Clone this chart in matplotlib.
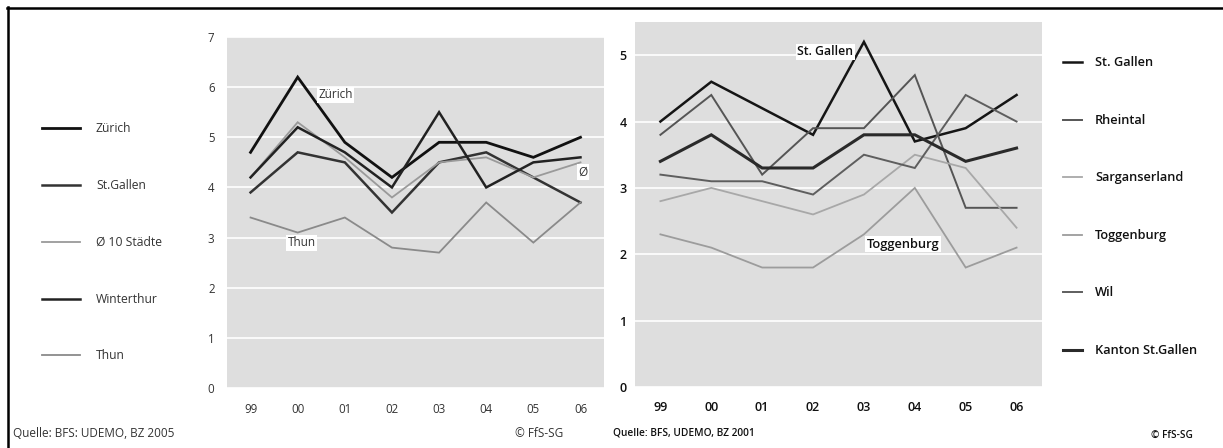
import matplotlib
matplotlib.use("Agg")
import matplotlib.pyplot as plt
from matplotlib.lines import Line2D

plt.rcParams['font.family'] = ['Open Sans', 'DejaVu Sans']

# left chart: cities 1999-2006
years = ["99", "00", "01", "02", "03", "04", "05", "06"]
zuerich = [4.7, 6.2, 4.9, 4.2, 4.9, 4.9, 4.6, 5.0]
stgallen = [3.9, 4.7, 4.5, 3.5, 4.5, 4.7, 4.2, 3.7]
staedte10 = [4.2, 5.3, 4.6, 3.8, 4.5, 4.6, 4.2, 4.5]
winterthur = [4.2, 5.2, 4.7, 4.0, 5.5, 4.0, 4.5, 4.6]
thun = [3.4, 3.1, 3.4, 2.8, 2.7, 3.7, 2.9, 3.7]

left_names = ["Zürich", "St.Gallen", "Ø 10 Städte", "Winterthur", "Thun"]
left_series = [zuerich, stgallen, staedte10, winterthur, thun]
left_colors = ["#111111", "#333333", "#9a9a9a", "#222222", "#8a8a8a"]
left_widths = [2.0, 1.8, 1.3, 1.8, 1.3]

# right chart: regions of canton St.Gallen
r_stgallen = [4.0, 4.6, 4.2, 3.8, 5.2, 3.7, 3.9, 4.4]
rheintal = [3.8, 4.4, 3.2, 3.9, 3.9, 4.7, 2.7, 2.7]
sarganserland = [2.8, 3.0, 2.8, 2.6, 2.9, 3.5, 3.3, 2.4]
toggenburg = [2.3, 2.1, 1.8, 1.8, 2.3, 3.0, 1.8, 2.1]
wil = [3.2, 3.1, 3.1, 2.9, 3.5, 3.3, 4.4, 4.0]
kanton = [3.4, 3.8, 3.3, 3.3, 3.8, 3.8, 3.4, 3.6]

right_names = ["St. Gallen", "Rheintal", "Sarganserland", "Toggenburg", "Wil", "Kanton St.Gallen"]
right_series = [r_stgallen, rheintal, sarganserland, toggenburg, wil, kanton]
right_colors = ["#151515", "#555555", "#a8a8a8", "#9c9c9c", "#5e5e5e", "#2a2a2a"]
right_widths = [1.8, 1.4, 1.3, 1.3, 1.4, 2.2]

fig = plt.figure(figsize=(12.23, 4.48), dpi=100)
bg = "#dedede"

ax1 = fig.add_axes([0.1856, 0.1339, 0.3083, 0.7835])
ax2 = fig.add_axes([0.5192, 0.1362, 0.3328, 0.8147])

x = list(range(len(years)))

for ax, series, colors, widths in [(ax1, left_series, left_colors, left_widths),
                                   (ax2, right_series, right_colors, right_widths)]:
    ax.set_facecolor(bg)
    for s, c, w in zip(series, colors, widths):
        ax.plot(x, s, color=c, lw=w, solid_joinstyle='miter')
    ax.set_xlim(-0.5, 7.5)
    ax.set_xticks(x)
    ax.set_xticklabels(years)
    ax.grid(axis='y', color='white', lw=1.2)
    ax.set_axisbelow(True)
    for sp in ax.spines.values():
        sp.set_visible(False)
    ax.tick_params(length=0)

ax1.set_ylim(0, 7)
ax1.set_yticks(range(8))
ax1.tick_params(axis='both', labelsize=8.3, colors='#333333')
ax1.tick_params(axis='x', pad=11)
ax1.tick_params(axis='y', pad=9)

ax2.set_ylim(0, 5.5)
ax2.set_yticks(range(6))
ax2.tick_params(axis='both', labelsize=9, colors='#111111')
ax2.tick_params(axis='x', pad=10)
ax2.tick_params(axis='y', pad=6)
for t in ax2.get_xticklabels() + ax2.get_yticklabels():
    t.set_fontweight('semibold')

box = dict(facecolor='white', edgecolor='none', pad=1)
ax1.text(1.8, 5.85, "Zürich", fontsize=8.5, color='#333333', ha='center', va='center', bbox=box)
ax1.text(1.08, 2.9, "Thun", fontsize=8.5, color='#333333', ha='center', va='center', bbox=box)
ax1.text(7.05, 4.3, "Ø", fontsize=8.5, color='#333333', ha='center', va='center', bbox=box)
ax2.text(3.24, 5.05, "St. Gallen", fontsize=8.8, color='#111111', ha='center', va='center',
         fontweight='semibold', bbox=box)
ax2.text(4.77, 2.15, "Toggenburg", fontsize=9.3, color='#111111', ha='center', va='center',
         fontweight='semibold', bbox=box)

# legends (drawn by hand in figure pixels)
W, H = 1223.0, 448.0
left_ys = [128, 185, 242, 299, 355]
for name, c, w, y in zip(left_names, left_colors, left_widths, left_ys):
    fig.add_artist(Line2D([42 / W, 80 / W], [1 - y / H, 1 - y / H], color=c, lw=w))
    fig.text(96 / W, 1 - y / H, name, fontsize=8.7, color='#333333', va='center')

right_ys = [62, 120, 177, 235, 292, 350]
for name, c, w, y in zip(right_names, right_colors, right_widths, right_ys):
    fig.add_artist(Line2D([1063 / W, 1082 / W], [1 - y / H, 1 - y / H], color=c, lw=w))
    fig.text(1095 / W, 1 - y / H, name, fontsize=9.2, color='#111111', va='center',
             fontweight='semibold')

# footers
fig.text(13 / W, 1 - 433 / H, "Quelle: BFS: UDEMO, BZ 2005", fontsize=8.5, color='#333333', va='center')
fig.text(563 / W, 1 - 433 / H, "© FfS-SG", fontsize=8.5, color='#333333', va='center', ha='right')
fig.text(613 / W, 1 - 433 / H, "Quelle: BFS, UDEMO, BZ 2001", fontsize=7.3, color='#111111',
         va='center', fontweight='semibold')
fig.text(1193 / W, 1 - 435 / H, "© FfS-SG", fontsize=7.2, color='#111111', va='center', ha='right',
         fontweight='semibold')

# frame lines
fig.add_artist(Line2D([7 / W, 1], [1 - 8 / H, 1 - 8 / H], color='black', lw=1.8))
fig.add_artist(Line2D([8 / W, 8 / W], [0, 1 - 7 / H], color='black', lw=1.8))

fig.savefig("out.png", dpi=100)
